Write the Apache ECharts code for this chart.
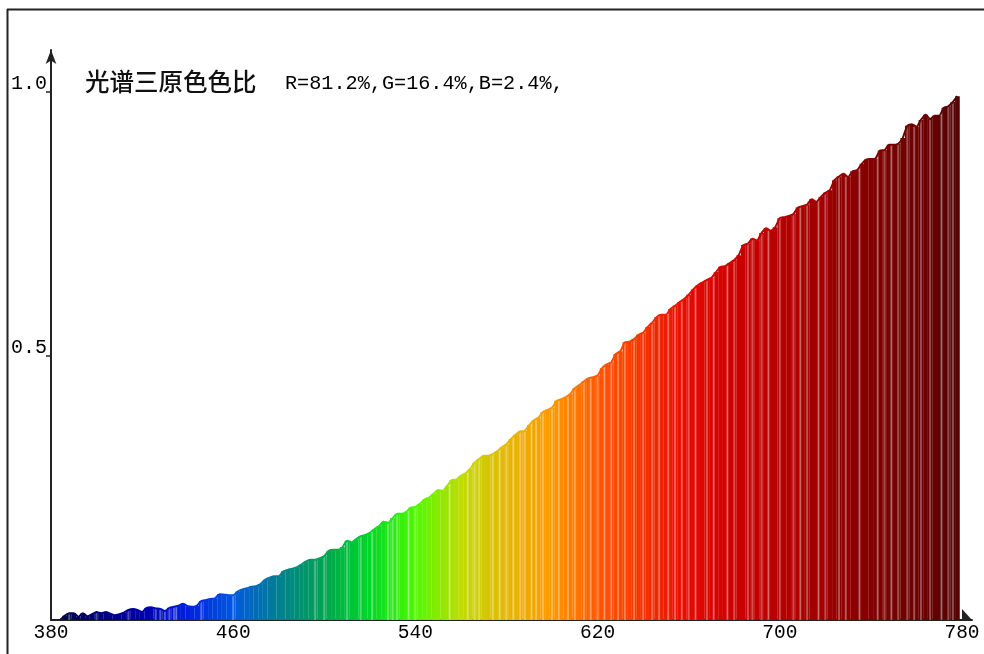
<!DOCTYPE html>
<html>
<head>
<meta charset="utf-8">
<style>html,body{margin:0;padding:0;background:#fff}#c{width:984px;height:654px}</style>
<script src="https://cdn.jsdelivr.net/npm/echarts@6/dist/echarts.min.js"></script>
</head>
<body>
<div id="c"></div>
<script>
const titleText = "光谱三原色色比";
const ratioText = "R=81.2%,G=16.4%,B=2.4%,";
const startWavelength = 384;
const stepWavelength = 2;
const intensity = [
0,.008,.013,.013,.006,.013,.007,.011,.015,.013,.015,.012,.009,.011,.014,.019,.021,.019,.015,.023,
.024,.022,.021,.017,.023,.025,.027,.031,.026,.025,.027,.036,.038,.040,.041,.049,.048,.047,.047,.054,
.058,.060,.063,.064,.068,.076,.080,.083,.083,.092,.095,.097,.100,.105,.111,.114,.114,.117,.121,.131,
.133,.133,.138,.150,.147,.153,.159,.161,.165,.172,.178,.186,.184,.193,.201,.201,.205,.213,.214,.220,
.228,.232,.239,.246,.245,.254,.265,.266,.273,.278,.286,.298,.305,.311,.311,.314,.320,.327,.333,.343,
.351,.357,.358,.369,.378,.383,.394,.398,.402,.415,.418,.422,.428,.439,.445,.452,.458,.460,.463,.477,
.484,.488,.504,.509,.526,.527,.532,.540,.544,.555,.563,.574,.578,.578,.589,.595,.602,.608,.616,.626,
.634,.639,.644,.648,.659,.669,.670,.676,.682,.691,.710,.713,.722,.719,.733,.742,.737,.744,.761,.763,
.765,.769,.781,.784,.787,.797,.792,.801,.809,.814,.833,.840,.845,.839,.850,.852,.864,.872,.873,.874,
.889,.890,.900,.900,.902,.913,.936,.939,.934,.947,.957,.949,.955,.955,.970,.973,.981,.992
];
const wavelengths = intensity.map((_, i) => startWavelength + i * stepWavelength);
const streakWavelengths = [388,400,414,426,428,430,432,434,435,446,460,496,500,510,516,521,528,530,532,537,540,
555,563,566,568,574,577,580,583,586,588,591,593,596,600,603,607,610,614,617,620,623,626,629,632,636,640,644,647,651,654,657,660,663,
668,671,677,680,686,688,692,695,700,706,709,712,717,720,726,729,735,743,746,749,752,756,759,762,766,771,774,776];
const spectrumColors = ["#0a0a38","#00007a","#0000a8","#0020e0","#0058e0","#008090","#00a450","#00d828","#50f800","#c0dc00","#e4b800",
"#ff9800","#ff5800","#f43400","#e40a00","#cc0000","#b80000","#9c0000","#840000","#6c0000","#540404"];
const xTicks = [380,460,540,620,700,780];

const chart = echarts.init(document.getElementById('c'));
const pairs = wavelengths.map((w, i) => [w, intensity[i]]);
const streaks = streakWavelengths.map(w => [w, intensity[Math.min(intensity.length - 1, Math.round((w - startWavelength) / stepWavelength))]]);
const mono = '"Liberation Mono", monospace';
const cjk = '"Noto Sans CJK SC", sans-serif';
const xAxisBase = {
  type: 'value', min: 380, max: 784.4, interval: 80
};
chart.setOption({
  animation: false,
  backgroundColor: '#fff',
  title: [
    { text: titleText, left: 80, top: 64, textStyle: { fontFamily: cjk, fontSize: 24.5, fontWeight: 500, color: '#111' } },
    { text: ratioText, left: 280, top: 69, textStyle: { fontFamily: mono, fontSize: 20.2, fontWeight: 'normal', color: '#000' } }
  ],
  grid: { left: 51, top: 50, width: 921, height: 570 },
  xAxis: [
    Object.assign({}, xAxisBase, {
      splitLine: { show: false },
      axisTick: { show: false },
      axisLine: { lineStyle: { color: '#222', width: 2 } },
      axisLabel: { margin: 3, showMaxLabel: false, fontFamily: mono, fontSize: 19.5, color: '#000',
        formatter: v => xTicks.includes(v) ? String(v) : '' }
    }),
    Object.assign({}, xAxisBase, { show: false, splitLine: { show: false } })
  ],
  yAxis: {
    type: 'value', min: 0, max: 1.0795, interval: 0.5,
    splitLine: { show: false },
    axisTick: { show: true, length: 5, lineStyle: { color: '#222', width: 1.5 } },
    axisLine: { show: true, symbol: ['none', 'arrow'], symbolSize: [8, 14], lineStyle: { color: '#222', width: 2 } },
    axisLabel: {
      margin: 4, showMinLabel: false, showMaxLabel: false, verticalAlign: 'bottom', lineHeight: 17, fontFamily: mono, fontSize: 20, color: '#000',
      formatter: v => (v === 0.5 || v === 1) ? v.toFixed(1) : ''
    }
  },
  visualMap: { show: false, type: 'continuous', dimension: 0, min: 380, max: 780, seriesIndex: [0, 2], inRange: { color: spectrumColors } },
  series: [
    { type: 'bar', xAxisIndex: 0, data: pairs, barWidth: 4.7, silent: true, z: 2 },
    { type: 'bar', xAxisIndex: 1, data: streaks, barWidth: 2, silent: true, z: 3, itemStyle: { color: 'rgba(255,255,255,0.3)' } },
    { type: 'line', xAxisIndex: 0, data: pairs, showSymbol: false, smooth: 0.2, lineStyle: { width: 2 }, silent: true, z: 4 }
  ],
  graphic: [
    { type: 'line', shape: { x1: 7, y1: 9.5, x2: 984, y2: 9.5 }, style: { stroke: '#222', lineWidth: 2 }, silent: true },
    { type: 'line', shape: { x1: 7.5, y1: 9, x2: 7.5, y2: 654 }, style: { stroke: '#222', lineWidth: 2 }, silent: true },
    { type: 'polygon', shape: { points: [[962, 609], [972, 620], [962, 620]] }, style: { fill: '#222' }, silent: true }
  ]
});
</script>
</body>
</html>
